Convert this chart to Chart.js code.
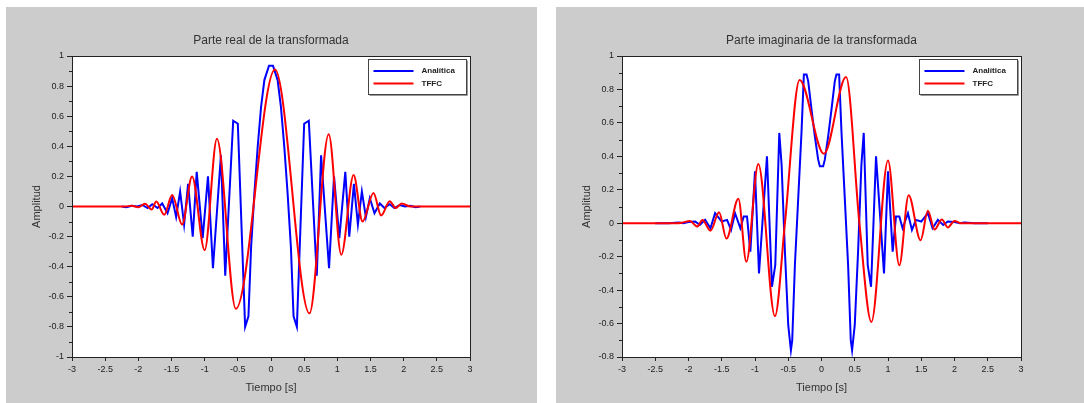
<!DOCTYPE html>
<html>
<head>
<meta charset="utf-8">
<script src="https://cdn.jsdelivr.net/npm/chart.js@4.4.1/dist/chart.umd.min.js"></script>
<style>
  body { margin: 0; background: #fff; }
  .panel { position: absolute; top: 7px; height: 396px; background: #cccccc; }
  #p1 { left: 6px; width: 531px; }
  #p2 { left: 556px; width: 528px; }
</style>
</head>
<body>
<div class="panel" id="p1"><canvas id="real" width="531" height="396"></canvas></div>
<div class="panel" id="p2"><canvas id="imag" width="528" height="396"></canvas></div>
<script>
// axis ticks
const xTicks = [-3, -2.5, -2, -1.5, -1, -0.5, 0, 0.5, 1, 1.5, 2, 2.5, 3]
const yTicksReal = [-1, -0.8, -0.6, -0.4, -0.2, 0, 0.2, 0.4, 0.6, 0.8, 1]
const yMinorReal = [-0.9, -0.7, -0.5, -0.3, -0.1, 0.1, 0.3, 0.5, 0.7, 0.9]
const yTicksImag = [-0.8, -0.6, -0.4, -0.2, 0, 0.2, 0.4, 0.6, 0.8, 1]
const yMinorImag = [-0.7, -0.5, -0.3, -0.1, 0.1, 0.3, 0.5, 0.7, 0.9]

// parte real - analitica (blue)
const tBlueReal = [-2.25, -2.18, -2.10, -2.02, -1.94, -1.86, -1.79, -1.71, -1.64, -1.56, -1.49, -1.43, -1.37, -1.31, -1.25, -1.18, -1.12, -1.03, -0.95, -0.875, -0.755, -0.69, -0.57, -0.50, -0.39, -0.34, -0.30, -0.25, -0.20, -0.15, -0.10, -0.03,
  0.03, 0.10, 0.15, 0.20, 0.25, 0.30, 0.34, 0.39, 0.50, 0.57, 0.69, 0.755, 0.875, 0.95, 1.03, 1.12, 1.18, 1.25, 1.31, 1.37, 1.43, 1.49, 1.56, 1.64, 1.71, 1.79, 1.86, 1.94, 2.02, 2.10, 2.18, 2.25]
const vBlueReal = [0, -0.005, 0.005, 0, 0.01, -0.01, 0.015, -0.01, 0.02, -0.045, 0.055, -0.07, 0.10, -0.12, 0.15, -0.20, 0.23, -0.21, 0.20, -0.41, 0.34, -0.46, 0.57, 0.55, -0.80, -0.73, -0.27, 0.09, 0.40, 0.66, 0.84, 0.935,
  0.935, 0.84, 0.66, 0.40, 0.09, -0.27, -0.73, -0.80, 0.55, 0.57, -0.46, 0.34, -0.41, 0.20, -0.21, 0.23, -0.20, 0.15, -0.12, 0.10, -0.07, 0.055, -0.045, 0.02, -0.01, 0.015, -0.01, 0.01, 0, 0.005, -0.005, 0]

// parte real - TFFC (red)
const tRedReal = [-3, -2.2, -2.1, -2.0, -1.9, -1.8, -1.73, -1.61, -1.49, -1.34, -1.19, -1.0, -0.815, -0.53, 0.06, 0.58, 0.87, 1.06, 1.245, 1.38, 1.545, 1.66, 1.79, 1.88, 1.97, 2.1, 2.2, 3]
const vRedReal = [0, 0, 0.005, -0.005, 0.018, -0.02, 0.033, -0.055, 0.076, -0.12, 0.20, -0.29, 0.45, -0.68, 0.91, -0.71, 0.48, -0.32, 0.21, -0.10, 0.09, -0.06, 0.035, -0.01, 0.02, 0, 0, 0]

// parte imaginaria - analitica (blue)
const tBlueImag = [-2.5, -2.3, -2.15, -2.08, -2.0, -1.9, -1.83, -1.75, -1.67, -1.60, -1.50, -1.42, -1.36, -1.30, -1.22, -1.17, -1.12, -1.07, -1.00, -0.94, -0.82, -0.745, -0.695, -0.635, -0.60, -0.55, -0.50, -0.46, -0.44, -0.40, -0.35, -0.30, -0.265, -0.225, -0.20, -0.15, -0.10, -0.05, -0.025,
  0.025, 0.05, 0.10, 0.15, 0.20, 0.225, 0.265, 0.30, 0.35, 0.40, 0.44, 0.46, 0.50, 0.55, 0.60, 0.635, 0.695, 0.745, 0.82, 0.94, 1.00, 1.07, 1.12, 1.17, 1.22, 1.30, 1.36, 1.42, 1.50, 1.60, 1.67, 1.75, 1.83, 1.90, 2.0, 2.08, 2.15, 2.3, 2.5]
const vBlueImag = [0, 0, 0.005, 0, 0.007, 0.01, -0.01, 0.02, -0.03, 0.06, 0.01, 0.02, -0.04, 0.06, -0.03, 0.04, 0.04, -0.17, 0.31, -0.30, 0.40, -0.38, -0.25, 0.54, 0.35, -0.17, -0.61, -0.76, -0.70, -0.25, 0.15, 0.55, 0.89, 0.89, 0.85, 0.68, 0.52, 0.38, 0.34,
  0.34, 0.38, 0.52, 0.68, 0.85, 0.89, 0.89, 0.55, 0.15, -0.25, -0.70, -0.76, -0.61, -0.17, 0.35, 0.54, -0.25, -0.38, 0.40, -0.30, 0.31, -0.17, 0.04, 0.04, -0.03, 0.06, -0.04, 0.02, 0.01, 0.06, -0.03, 0.02, -0.01, 0.01, 0.007, 0, 0.005, 0, 0]

// parte imaginaria - TFFC (red)
const tRedImag = [-3, -2.2, -2.1, -1.98, -1.87, -1.79, -1.67, -1.54, -1.43, -1.25, -1.13, -0.95, -0.70, -0.55, -0.33, 0.036, 0.37, 0.57, 0.75, 1.0, 1.17, 1.31, 1.49, 1.60, 1.70, 1.81, 1.90, 2.0, 2.1, 2.2, 3]
const vRedImag = [0, 0, 0.003, 0.014, -0.02, 0.02, -0.045, 0.066, -0.092, 0.146, -0.23, 0.354, -0.556, 0, 0.856, 0.416, 0.874, 0, -0.59, 0.375, -0.252, 0.168, -0.102, 0.074, -0.038, 0.023, -0.025, 0.014, 0, 0, 0]

const FONT = 'Liberation Sans'
const INK = '#222'

const toPoints = (ts, vs) => ts.map((t, i) => ({ x: t, y: vs[i] }))

// white plot box, frame, minor ticks and the boxed legend
const scilabLook = {
  id: 'scilabLook',
  beforeDraw(chart) {
    const a = chart.chartArea
    const ctx = chart.ctx
    ctx.save()
    ctx.fillStyle = '#fff'
    ctx.fillRect(a.left, a.top, a.right - a.left, a.bottom - a.top)
    ctx.restore()
  },
  afterDraw(chart, args, opts) {
    const a = chart.chartArea
    const ctx = chart.ctx
    const y = chart.scales.y
    ctx.save()
    ctx.strokeStyle = INK
    ctx.lineWidth = 1
    ctx.strokeRect(Math.round(a.left) + 0.5, Math.round(a.top) + 0.5, Math.round(a.right - a.left), Math.round(a.bottom - a.top))

    ctx.beginPath()
    opts.minor.forEach(v => {
      const py = Math.round(y.getPixelForValue(v)) + 0.5
      ctx.moveTo(a.left - 3, py)
      ctx.lineTo(a.left, py)
    })
    ctx.stroke()

    // legend
    const bx = Math.round(a.right) - 102 + 0.5
    const by = Math.round(a.top) + 3 + 0.5
    ctx.fillStyle = '#fff'
    ctx.fillRect(bx, by, 98, 35)
    ctx.strokeStyle = '#444'
    ctx.strokeRect(bx, by, 98, 35)
    ctx.strokeStyle = '#999'
    ctx.beginPath()
    ctx.moveTo(bx + 99, by + 1)
    ctx.lineTo(bx + 99, by + 36)
    ctx.lineTo(bx + 1, by + 36)
    ctx.stroke()

    ctx.font = 'bold 8px ' + FONT
    ctx.textBaseline = 'middle'
    chart.data.datasets.forEach((ds, i) => {
      const ly = by + 11.5 + i * 12.5
      ctx.strokeStyle = ds.borderColor
      ctx.lineWidth = 2
      ctx.beginPath()
      ctx.moveTo(bx + 5, ly)
      ctx.lineTo(bx + 45, ly)
      ctx.stroke()
      ctx.fillStyle = INK
      ctx.fillText(ds.label, bx + 53, ly)
    })
    ctx.restore()
  }
}

function drawPanel(id, title, yMin, yMax, yTicks, yMinor, blue, red, padRight) {
  return new Chart(document.getElementById(id), {
    type: 'line',
    data: {
      datasets: [
        { label: 'Analítica', data: blue, borderColor: '#0000ff', borderWidth: 2, tension: 0, order: 1 },
        { label: 'TFFC', data: red, borderColor: '#ff0000', borderWidth: 2, cubicInterpolationMode: 'monotone', order: 0 }
      ]
    },
    options: {
      responsive: false,
      animation: false,
      layout: { padding: { left: 0, right: padRight, top: 0, bottom: 0 } },
      elements: { point: { radius: 0 } },
      plugins: {
        legend: { display: false },
        tooltip: { enabled: false },
        title: {
          display: true, text: title, fullSize: false, color: '#333',
          font: { family: FONT, size: 12, weight: 'normal' },
          padding: { top: 26, bottom: 8.6 }
        },
        scilabLook: { minor: yMinor }
      },
      scales: {
        x: {
          type: 'linear', min: -3, max: 3,
          afterBuildTicks: s => { s.ticks = xTicks.map(v => ({ value: v })) },
          afterFit: s => { s.height = 46 },
          ticks: { color: INK, font: { family: FONT, size: 9 }, padding: 3, maxRotation: 0, callback: v => String(v) },
          grid: { drawOnChartArea: false, tickLength: 4, color: INK },
          border: { color: INK },
          title: { display: true, text: 'Tiempo [s]', color: '#333', font: { family: FONT, size: 11 }, padding: { top: 0, bottom: 8.4 } }
        },
        y: {
          min: yMin, max: yMax,
          afterBuildTicks: s => { s.ticks = yTicks.map(v => ({ value: v })) },
          afterFit: s => { s.width = 66 },
          ticks: { color: INK, font: { family: FONT, size: 9 }, padding: 3, callback: v => String(v) },
          grid: { drawOnChartArea: false, tickLength: 5, color: INK },
          border: { color: INK },
          title: { display: true, text: 'Amplitud', color: '#333', font: { family: FONT, size: 11 }, padding: { top: 24.4, bottom: 0 } }
        }
      }
    },
    plugins: [scilabLook]
  })
}

drawPanel('real', 'Parte real de la transformada', -1, 1, yTicksReal, yMinorReal,
  toPoints(tBlueReal, vBlueReal), toPoints(tRedReal, vRedReal), 67)
drawPanel('imag', 'Parte imaginaria de la transformada', -0.8, 1, yTicksImag, yMinorImag,
  toPoints(tBlueImag, vBlueImag), toPoints(tRedImag, vRedImag), 63)
</script>
</body>
</html>
